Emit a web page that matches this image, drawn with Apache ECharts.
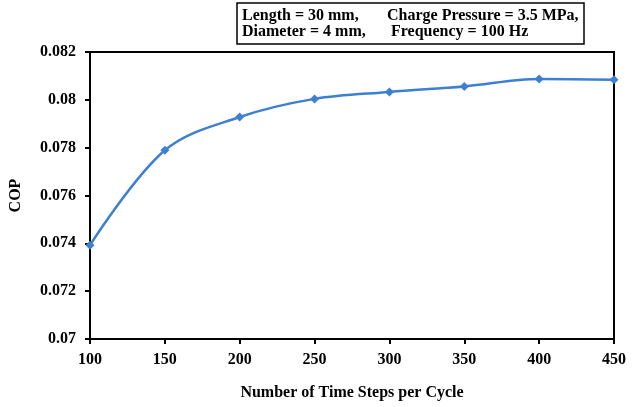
<!DOCTYPE html>
<html>
<head>
<meta charset="UTF-8">
<script src="https://cdn.jsdelivr.net/npm/echarts@6/dist/echarts.min.js"></script>
<style>
  html, body { margin: 0; padding: 0; background: #fff; }
  #chart { width: 640px; height: 407px; }
</style>
</head>
<body>
<div id="chart"></div>
<script>
// data
const timeSteps = [100, 150, 200, 250, 300, 350, 400, 450];
const copValues = [0.07392, 0.07789, 0.07928, 0.08004, 0.08033, 0.08056, 0.08087, 0.08084];
const infoLine1 = ['Length = 30 mm,', 'Charge Pressure = 3.5 MPa,'];
const infoLine2 = ['Diameter = 4 mm,', 'Frequency = 100 Hz'];

const font = '"Liberation Serif", "Times New Roman", serif';
const txt = { fontFamily: font, fontWeight: 'bold', fontSize: 16, color: '#000' };
const boxText = (s, x, y) => ({
  type: 'text', x: x, y: y,
  style: { text: s, font: 'bold 16px ' + font, fill: '#000', verticalAlign: 'middle' }
});

const chart = echarts.init(document.getElementById('chart'));
chart.setOption({
  animation: false,
  backgroundColor: '#fff',
  grid: {
    left: 88, right: 26, top: 52, bottom: 68,
    show: true, borderColor: '#000', borderWidth: 2
  },
  xAxis: {
    type: 'value', min: 100, max: 450, interval: 50,
    name: 'Number of Time Steps per Cycle',
    nameLocation: 'middle', nameGap: 46,
    nameTextStyle: txt,
    axisLine: { lineStyle: { color: '#000', width: 2 } },
    axisTick: { show: true, length: 5, lineStyle: { color: '#000', width: 2 } },
    axisLabel: Object.assign({ margin: 13 }, txt),
    splitLine: { show: false }
  },
  yAxis: {
    type: 'value', min: 0.07, max: 0.082, interval: 0.002,
    name: 'COP',
    nameLocation: 'middle', nameGap: 66, nameRotate: 90,
    nameTextStyle: txt,
    axisLine: { show: true, lineStyle: { color: '#000', width: 2 } },
    axisTick: { show: true, length: 5, lineStyle: { color: '#000', width: 2 } },
    axisLabel: Object.assign({ margin: 14 }, txt),
    splitLine: { show: false }
  },
  series: [{
    type: 'line',
    data: timeSteps.map((x, i) => [x, copValues[i]]),
    smooth: 0.35,
    symbol: 'diamond',
    symbolSize: 9,
    lineStyle: { color: '#3d7fd1', width: 2.5 },
    itemStyle: { color: '#3d7fd1' }
  }],
  graphic: [
    { type: 'rect', shape: { x: 237, y: 3, width: 347, height: 41 },
      style: { fill: '#fff', stroke: '#000', lineWidth: 1.5 } },
    boxText(infoLine1[0], 242, 16),
    boxText(infoLine1[1], 387, 16),
    boxText(infoLine2[0], 242, 32),
    boxText(infoLine2[1], 391, 32)
  ]
});
</script>
</body>
</html>
